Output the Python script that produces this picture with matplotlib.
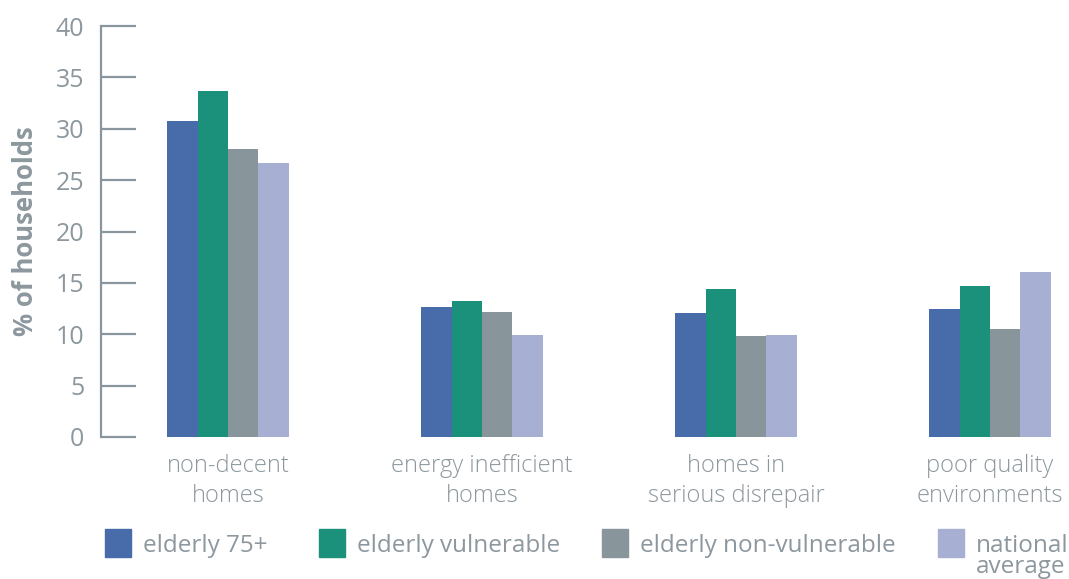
import numpy as np
import matplotlib.pyplot as plt
from matplotlib.patches import Rectangle

# housing conditions by household type
categories = ['non-decent\nhomes', 'energy inefficient\nhomes',
              'homes in\nserious disrepair', 'poor quality\nenvironments']
series = ['elderly 75+', 'elderly vulnerable', 'elderly non-vulnerable',
          'national\naverage']
elderly_75 = [30.8, 12.7, 12.1, 12.5]
elderly_vulnerable = [33.7, 13.2, 14.4, 14.7]
elderly_non_vulnerable = [28.0, 12.2, 9.8, 10.5]
national_average = [26.7, 9.9, 9.9, 16.1]
yticks = [0, 5, 10, 15, 20, 25, 30, 35, 40]

colors = ['#476ca9', '#1b917b', '#88959b', '#a7b0d3']
txt = '#8c979e'

plt.rcParams['font.family'] = ['Open Sans', 'DejaVu Sans']

W, H = 1069, 579
fig = plt.figure(figsize=(W / 100, H / 100), dpi=100)
ax = fig.add_axes([101 / W, 142 / H, (W - 101) / W, 411 / H])

values = [elderly_75, elderly_vulnerable, elderly_non_vulnerable, national_average]
x = np.arange(len(categories))
bw = 0.12
for i, (vals, c) in enumerate(zip(values, colors)):
    ax.bar(x + (i - 1.5) * bw, vals, bw, color=c, linewidth=0)

ax.set_xlim(-0.5, (W - 228) / 254)
ax.set_ylim(0, 40)
ax.set_yticks(yticks)
ax.set_xticks(x)
ax.set_xticklabels(categories, fontsize=17, color=txt, linespacing=1.35,
                   fontweight='light')
ax.tick_params(axis='x', length=0, pad=12)
ax.tick_params(axis='y', direction='in', length=25, width=1.6, color='#8a969e',
               labelsize=18, labelcolor=txt, pad=12)
for s in ['top', 'right', 'bottom']:
    ax.spines[s].set_visible(False)
ax.spines['left'].set_color('#8a969e')
ax.spines['left'].set_linewidth(1.6)
ax.set_ylabel('% of households', fontsize=18.5, fontweight='bold', color=txt,
              labelpad=12)

# legend row along the bottom
leg_x = [105, 319, 602, 938]
for lx, c, name in zip(leg_x, colors, series):
    fig.patches.append(Rectangle((lx / W, 22 / H), 26 / W, 28 / H,
                                 transform=fig.transFigure, color=c))
    fig.text((lx + 38) / W, 45 / H, name, fontsize=17.5, color=txt, va='top',
             ha='left', linespacing=0.85)

fig.savefig('out.png', dpi=100)
